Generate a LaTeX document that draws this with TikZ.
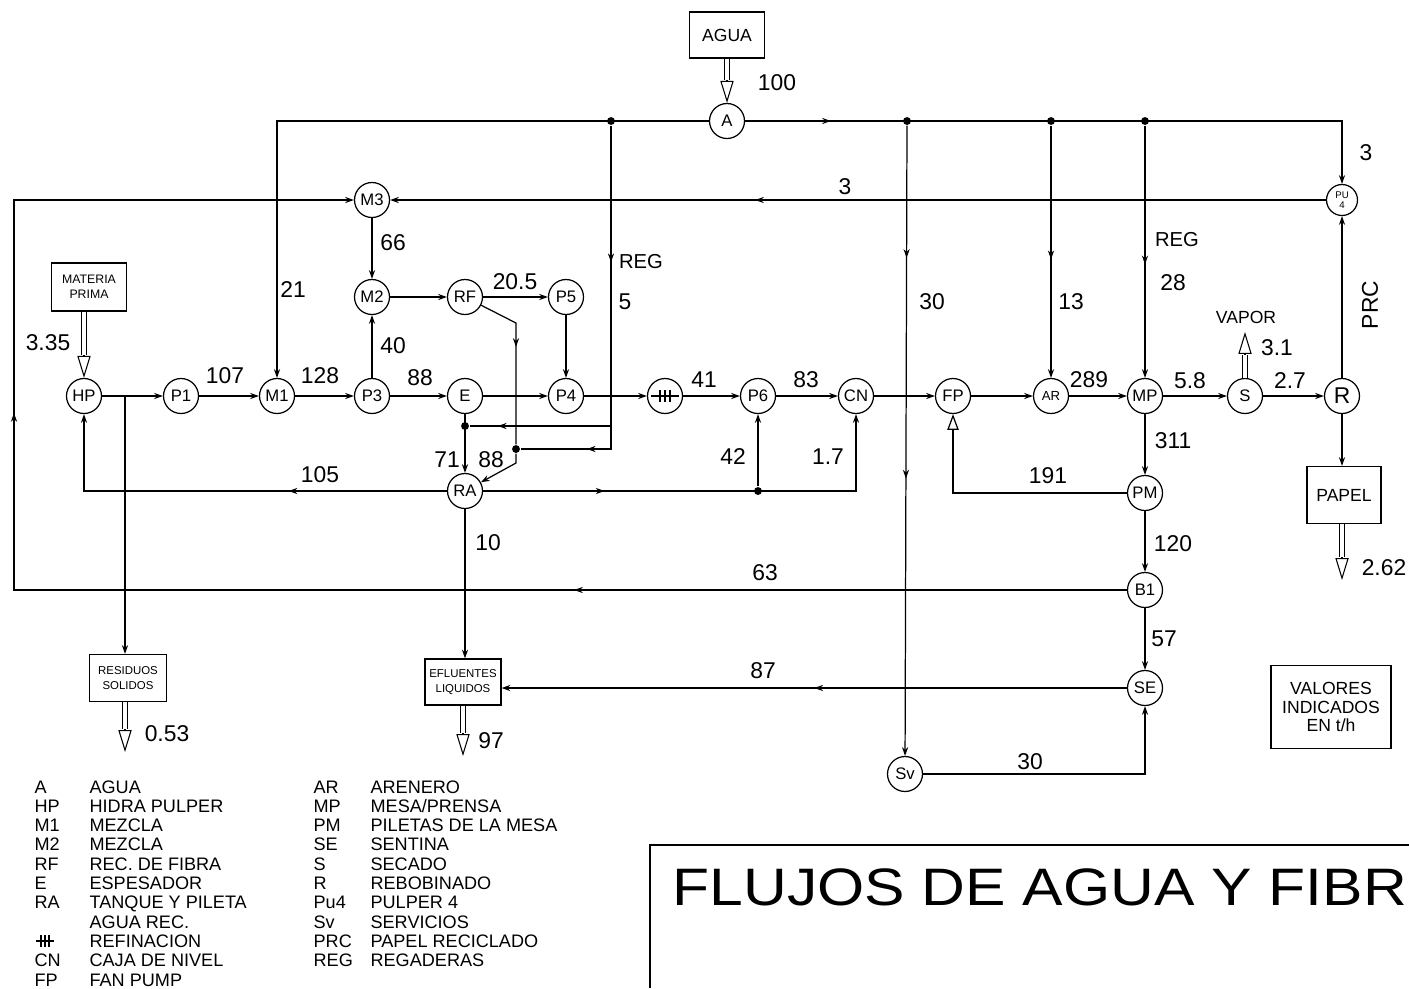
\documentclass[tikz,border=0pt]{standalone}
\usepackage{fontspec}
\setmainfont{Liberation Sans}
\usetikzlibrary{
    arrows.meta,
    calc,
    decorations.markings
}

\begin{document}
\begin{tikzpicture}[x=0.02cm, y=-0.02cm, line width=0.7pt,
    >={Stealth[length=5pt,width=3.5pt]},
    equipo/.style={circle, draw, minimum size=0.7cm, inner sep=0pt,
        font=\fontsize{9.5}{9.5}\selectfont},
    caja/.style={draw, align=center, inner sep=1pt},
    num/.style={font=\fontsize{13}{13}\selectfont},
    punto/.style={circle, fill, inner sep=0pt, minimum size=4.5pt},
    doble/.style={double, double distance=2pt, line width=0.55pt},
    punta/.style={-{Triangle[open,length=12.5pt,width=7.5pt]}, line width=0.6pt},
    marca/.style={postaction={decorate, decoration={markings,
        mark=at position #1 with {\arrow{Stealth[length=5pt,width=3.5pt]}}}}}
]

\useasboundingbox (0,0) rectangle (1409,988);

% Equipos
\node[equipo] (a) at (727,121) {A};
\node[equipo] (m3) at (372,200) {M3};
\node[equipo, minimum size=0.62cm, align=center, font=\fontsize{5.5}{6}\selectfont] (pu4) at (1342,200) {PU\\4};
\node[equipo] (m2) at (372,297) {M2};
\node[equipo] (rf) at (465,297) {RF};
\node[equipo] (p5) at (566,297) {P5};
\node[equipo] (hp) at (84,396) {HP};
\node[equipo] (p1) at (181,396) {P1};
\node[equipo] (m1) at (277,396) {M1};
\node[equipo] (p3) at (372,396) {P3};
\node[equipo] (e) at (465,396) {E};
\node[equipo] (p4) at (566,396) {P4};
\node[equipo] (ref) at (665,396) {};
\node[equipo] (p6) at (758,396) {P6};
\node[equipo] (cn) at (856,396) {CN};
\node[equipo] (fp) at (953,396) {FP};
\node[equipo, font=\fontsize{7.5}{7.5}\selectfont] (ar) at (1051,396) {AR};
\node[equipo] (mp) at (1145,396) {MP};
\node[equipo] (s) at (1245,396) {S};
\node[equipo, font=\fontsize{13}{13}\selectfont] (r) at (1342,396) {R};
\node[equipo] (ra) at (465,491) {RA};
\node[equipo] (pm) at (1145,493) {PM};
\node[equipo] (b1) at (1145,590) {B1};
\node[equipo] (se) at (1145,688) {SE};
\node[equipo] (sv) at (905,774) {Sv};

% Refinacion
\draw ($(ref.west)+(4,0)$) -- ($(ref.east)+(-4,0)$);
\foreach \dx in {-5,0,5}
    \draw ($(ref)+(\dx,-6)$) -- ($(ref)+(\dx,6)$);

% Cajas
\node[caja, minimum width=1.5cm, minimum height=0.92cm, font=\fontsize{10}{10}\selectfont] (agua) at (727,35) {AGUA};
\node[caja, minimum width=1.5cm, minimum height=0.96cm, font=\fontsize{7}{8.5}\selectfont] (materia) at (89,287) {MATERIA\\PRIMA};
\node[caja, minimum width=1.54cm, minimum height=0.94cm, font=\fontsize{6.5}{9}\selectfont] (residuos) at (128,678) {RESIDUOS\\SOLIDOS};
\node[caja, minimum width=1.52cm, minimum height=0.92cm, font=\fontsize{6.5}{9}\selectfont] (efluentes) at (463,682) {EFLUENTES\\LIQUIDOS};
\node[caja, minimum width=1.48cm, minimum height=1.14cm, font=\fontsize{10}{10}\selectfont] (papel) at (1344,495) {PAPEL};
\node[caja, minimum width=2.4cm, minimum height=1.66cm, font=\fontsize{10}{10.5}\selectfont] (valores) at (1331,707) {VALORES\\INDICADOS\\EN t/h};

% Uniones
\node[punto] (d1) at (611,121) {};
\node[punto] (d2) at (907,121) {};
\node[punto] (d3) at (1051,121) {};
\node[punto] (d4) at (1145,121) {};
\node[punto] (d5) at (465,426) {};
\node[punto] (d6) at (516,449) {};
\node[punto] (d7) at (758,491) {};
\coordinate (jr) at (125,396);
\coordinate (r1) at (611,426);

% Entradas y salidas
\draw[doble] (agua) -- ($(a.north)+(0,-23)$);
\draw[punta] ($(a.north)+(0,-23)$) -- (a.north);
\draw[doble] (materia.south -| hp) -- ($(hp.north)+(0,-23)$);
\draw[punta] ($(hp.north)+(0,-23)$) -- (hp.north);
\coordinate (vapor) at (1245,332);
\draw[doble] (s) -- ($(vapor)+(0,23)$);
\draw[punta] ($(vapor)+(0,23)$) -- (vapor);
\coordinate (salpapel) at (1342,580);
\draw[doble] (papel.south -| salpapel) -- ($(salpapel)+(0,-23)$);
\draw[punta] ($(salpapel)+(0,-23)$) -- (salpapel);
\coordinate (salres) at (125,752);
\draw[doble] (residuos.south -| salres) -- ($(salres)+(0,-23)$);
\draw[punta] ($(salres)+(0,-23)$) -- (salres);
\coordinate (salef) at (463,756);
\draw[doble] (efluentes) -- ($(salef)+(0,-23)$);
\draw[punta] ($(salef)+(0,-23)$) -- (salef);

% Linea de agua
\draw[->] (a) -| (m1);
\draw[->, marca=0.13] (a) -| (pu4);
\draw[->, marca=0.21, marca=0.56] (d2) -- (sv);
\draw[->, marca=0.53] (d3) -- (ar);
\draw[->, marca=0.55] (d4) -- (mp);
\draw[marca=0.33, marca=0.84] (d1) |- (d6);
\draw[marca=0.8] (r1) -- (d5);

% Linea principal
\draw[->] (hp) -- (p1);
\draw[->] (jr) -- (jr |- residuos.north);
\draw[->] (p1) -- (m1);
\draw[->] (m1) -- (p3);
\draw[->] (p3) -- (e);
\draw[->] (e) -- (p4);
\draw[->] (p4) -- (ref);
\draw[->] (ref) -- (p6);
\draw[->] (p6) -- (cn);
\draw[->] (cn) -- (fp);
\draw[->] (fp) -- (ar);
\draw[->] (ar) -- (mp);
\draw[->] (mp) -- (s);
\draw[->] (s) -- (r);

% Mezclas y recuperacion de fibra
\draw[->] (p3) -- (m2);
\draw[->] (m3) -- (m2);
\draw[->] (m2) -- (rf);
\draw[->] (rf) -- (p5);
\draw[->] (p5) -- (p4);
\draw[->, marca=0.3] (rf) -- (516,323) -- (d6) -- (516,463) -- (ra);
\draw[->] (e) -- (ra);
\draw[->, marca=0.61] (pu4) -- (m3);
\draw[->, marca=0.3, marca=0.7] (b1) -- (14,590) -- (14,200) -- (m3);

% Agua recuperada
\draw[->, marca=0.27] (ra) -| (cn);
\draw[->] (d7) -- (p6);
\draw[->, marca=0.36] (ra) -| (hp);
\draw[->] (ra) -- (ra |- efluentes.north);

% Mesa y sentina
\draw[->] (mp) -- (pm);
\draw[-{Triangle[open,length=9pt,width=6.5pt]}] (pm) -| (fp);
\draw[->] (pm) -- (b1);
\draw[->] (b1) -- (se);
\draw[->, marca=0.5] (se) -- (se -| efluentes.east);
\draw[->] (sv) -| (se);
\draw[->] (r) -- (pu4);
\draw[->] (r) -- (r |- papel.north);

% Caudales
\node[num] (n100) at (777,83) {100};
\node[num] (n335) at (48,343) {3.35};
\node[num] (n107) at (225,376) {107};
\node[num] (n128) at (320,376) {128};
\node[num] (n88a) at (420,378) {88};
\node[num] (n40) at (393,346) {40};
\node[num] (n66) at (393,243) {66};
\node[num] (n21) at (293,290) {21};
\node[num] (n205) at (515,282) {20.5};
\node[num, font=\fontsize{11.5}{11.5}\selectfont] (nreg1) at (641,262) {REG};
\node[num] (n5) at (625,302) {5};
\node[num] (n3a) at (845,187) {3};
\node[num] (n41) at (704,380) {41};
\node[num] (n83) at (806,380) {83};
\node[num] (n71) at (447,460) {71};
\node[num] (n88b) at (491,460) {88};
\node[num] (n105) at (320,475) {105};
\node[num] (n42) at (733,457) {42};
\node[num] (n17) at (828,457) {1.7};
\node[num] (n10) at (488,543) {10};
\node[num] (n30a) at (932,302) {30};
\node[num] (n13) at (1071,302) {13};
\node[num, font=\fontsize{11.5}{11.5}\selectfont] (nreg2) at (1177,240) {REG};
\node[num] (n28) at (1173,283) {28};
\node[num] (n289) at (1089,380) {289};
\node[num] (n58) at (1190,381) {5.8};
\node[num] (n27) at (1290,381) {2.7};
\node[num, font=\fontsize{10}{10}\selectfont] (nvapor) at (1246,317) {VAPOR};
\node[num] (n31) at (1277,348) {3.1};
\node[num, rotate=90] (nprc) at (1370,305) {PRC};
\node[num] (n3b) at (1366,153) {3};
\node[num] (n311) at (1173,441) {311};
\node[num] (n191) at (1048,476) {191};
\node[num] (n120) at (1173,544) {120};
\node[num] (n63) at (765,573) {63};
\node[num] (n57) at (1164,639) {57};
\node[num] (n87) at (763,671) {87};
\node[num] (n30b) at (1030,762) {30};
\node[num] (n262) at (1384,568) {2.62};
\node[num] (n053) at (167,734) {0.53};
\node[num] (n97) at (491,741) {97};

% Leyenda
\node[anchor=base west, inner sep=0pt, font=\fontsize{10.3}{11}\selectfont] (ley1) at (34,793)
    {\begin{tabular}[t]{@{}p{1.1cm}@{}l@{}}
    A & AGUA\\ HP & HIDRA PULPER\\ M1 & MEZCLA\\ M2 & MEZCLA\\
    RF & REC. DE FIBRA\\ E & ESPESADOR\\ RA & TANQUE Y PILETA\\
     & AGUA REC.\\ & REFINACION\\ CN & CAJA DE NIVEL\\ FP & FAN PUMP
    \end{tabular}};
\node[anchor=base west, inner sep=0pt, font=\fontsize{10.3}{11}\selectfont] (ley2) at (313,793)
    {\begin{tabular}[t]{@{}p{1.14cm}@{}l@{}}
    AR & ARENERO\\ MP & MESA/PRENSA\\ PM & PILETAS DE LA MESA\\
    SE & SENTINA\\ S & SECADO\\ R & REBOBINADO\\ Pu4 & PULPER 4\\
    Sv & SERVICIOS\\ PRC & PAPEL RECICLADO\\ REG & REGADERAS
    \end{tabular}};
\coordinate (symref) at (45,941);
\draw[line width=0.6pt] ($(symref)+(-9,0)$) -- ($(symref)+(9,0)$);
\foreach \dx in {-4,0,4}
    \draw[line width=0.6pt] ($(symref)+(\dx,-6)$) -- ($(symref)+(\dx,6)$);

% Titulo
\draw (650,988) -- (650,845) -- (1409,845);
\node[anchor=base west, inner sep=0pt, font=\fontsize{30}{30}\selectfont] (titulo) at (672,905)
    {\scalebox{1.15}[1]{FLUJOS DE AGUA Y FIBR}};

\end{tikzpicture}
\end{document}
